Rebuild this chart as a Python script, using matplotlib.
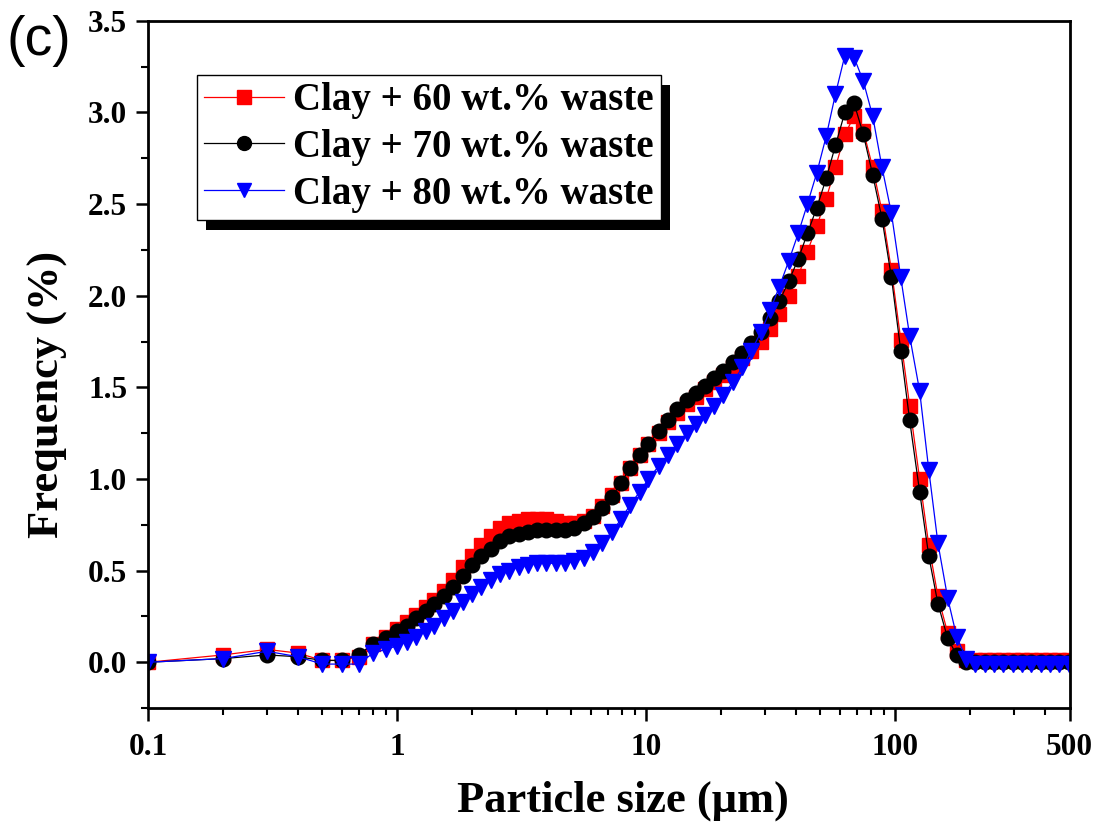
import numpy as np
import matplotlib
matplotlib.use('Agg')
import matplotlib.pyplot as plt
from matplotlib.patches import Rectangle
from matplotlib.ticker import FixedLocator, NullFormatter, MultipleLocator

plt.rcParams['font.family'] = ['Liberation Serif', 'DejaVu Serif']
plt.rcParams['font.weight'] = 'bold'

# particle size classes (um)
size = [0.1, 0.2, 0.3, 0.4, 0.5, 0.6, 0.7, 0.8, 0.9, 1.0,
        1.09, 1.19, 1.30, 1.41, 1.54, 1.68, 1.83, 1.99, 2.17, 2.37,
        2.58, 2.81, 3.07, 3.34, 3.64, 3.97, 4.33, 4.72, 5.14, 5.60,
        6.11, 6.66, 7.26, 7.91, 8.62, 9.40, 10.2, 11.2, 12.2, 13.3,
        14.5, 15.8, 17.2, 18.7, 20.4, 22.3, 24.3, 26.4, 28.8, 31.4,
        34.2, 37.3, 40.7, 44.3, 48.3, 52.7, 57.4, 62.6, 68.2, 74.3,
        81.0, 88.3, 96.3, 105, 114, 125, 136, 148, 162, 176,
        192, 209, 228, 249, 271, 295, 322, 351, 383, 417,
        455, 496]

waste60 = [0.00, 0.04, 0.07, 0.05, 0.01, 0.01, 0.03, 0.10, 0.14, 0.18,
           0.22, 0.26, 0.30, 0.34, 0.39, 0.45, 0.52, 0.58, 0.64, 0.69,
           0.73, 0.76, 0.77, 0.78, 0.78, 0.78, 0.77, 0.76, 0.76, 0.77,
           0.80, 0.85, 0.91, 0.98, 1.06, 1.13, 1.19, 1.25, 1.31, 1.36,
           1.41, 1.45, 1.49, 1.53, 1.57, 1.61, 1.66, 1.70, 1.75, 1.82,
           1.90, 2.00, 2.11, 2.24, 2.38, 2.53, 2.70, 2.88, 2.98, 2.90,
           2.70, 2.46, 2.14, 1.76, 1.40, 1.00, 0.64, 0.36, 0.16, 0.06,
           0.01, 0.01, 0.01, 0.01, 0.01, 0.01, 0.01, 0.01, 0.01, 0.01,
           0.01, 0.01]

waste70 = [0.00, 0.02, 0.04, 0.03, 0.01, 0.01, 0.04, 0.10, 0.13, 0.17,
           0.20, 0.24, 0.28, 0.32, 0.36, 0.41, 0.47, 0.53, 0.58, 0.62,
           0.66, 0.69, 0.70, 0.71, 0.72, 0.72, 0.72, 0.72, 0.73, 0.76,
           0.79, 0.84, 0.90, 0.98, 1.06, 1.13, 1.19, 1.26, 1.32, 1.38,
           1.43, 1.47, 1.51, 1.55, 1.59, 1.64, 1.69, 1.74, 1.80, 1.88,
           1.97, 2.08, 2.20, 2.34, 2.48, 2.64, 2.82, 3.00, 3.05, 2.88,
           2.66, 2.42, 2.10, 1.70, 1.32, 0.93, 0.58, 0.32, 0.13, 0.04,
           0.00, 0.00, 0.00, 0.00, 0.00, 0.00, 0.00, 0.00, 0.00, 0.00,
           0.00, 0.00]

waste80 = [0.00, 0.02, 0.06, 0.03, -0.01, -0.01, -0.01, 0.05, 0.07, 0.09,
           0.11, 0.14, 0.17, 0.20, 0.24, 0.28, 0.33, 0.37, 0.41, 0.45,
           0.48, 0.50, 0.52, 0.53, 0.54, 0.54, 0.54, 0.54, 0.55, 0.57,
           0.60, 0.65, 0.71, 0.78, 0.86, 0.93, 1.00, 1.07, 1.13, 1.19,
           1.25, 1.30, 1.35, 1.40, 1.46, 1.53, 1.61, 1.70, 1.80, 1.92,
           2.05, 2.19, 2.34, 2.50, 2.67, 2.87, 3.10, 3.31, 3.30, 3.17,
           2.98, 2.70, 2.45, 2.10, 1.78, 1.48, 1.05, 0.65, 0.35, 0.14,
           0.02, -0.01, -0.01, -0.01, -0.01, -0.01, -0.01, -0.01, -0.01, -0.01,
           -0.01, -0.01]

labels = ['Clay + 60 wt.% waste', 'Clay + 70 wt.% waste', 'Clay + 80 wt.% waste']
xticks = [0.1, 1, 10, 100, 500]
xticklabels = ['0.1', '1', '10', '100', '500']
yticks = [0.0, 0.5, 1.0, 1.5, 2.0, 2.5, 3.0, 3.5]

fig = plt.figure(figsize=(11.05, 8.34), dpi=100)
ax = fig.add_axes([0.134, 0.151, 0.834, 0.824])

ax.plot(size, waste60, color='#FF0000', lw=0.9, marker='s', ms=9.5,
        mec='#FF0000', mfc='#FF0000', label=labels[0])
ax.plot(size, waste70, color='black', lw=0.9, marker='o', ms=10.5,
        mec='black', mfc='black', label=labels[1])
ax.plot(size, waste80, color='#0000FF', lw=0.9, marker='v', ms=11.5,
        mec='#0000FF', mfc='#0000FF', label=labels[2])

ax.set_xscale('log')
ax.set_xlim(0.1, 500)
ax.set_ylim(-0.25, 3.5)

ax.xaxis.set_major_locator(FixedLocator(xticks))
ax.set_xticklabels(xticklabels)
minors = [m * 10.0 ** e for e in range(-1, 3) for m in range(2, 10)]
minors = [v for v in minors if v < 500]
ax.xaxis.set_minor_locator(FixedLocator(minors))
ax.xaxis.set_minor_formatter(NullFormatter())

ax.yaxis.set_minor_locator(MultipleLocator(0.25))
ax.set_yticks(yticks)
ax.set_yticklabels(['%.1f' % v for v in yticks])

for s in ax.spines.values():
    s.set_linewidth(2)

ax.tick_params(axis='both', which='major', direction='out', length=9, width=1.8,
               labelsize=22.5, pad=6)
ax.tick_params(axis='x', which='major', pad=9)
ax.tick_params(axis='both', which='minor', direction='out', length=5, width=1.5)
ax.tick_params(top=False, right=False)

ax.set_xlabel('Particle size (μm)', fontsize=32, fontweight='bold')
ax.set_ylabel('Frequency (%)', fontsize=32, fontweight='bold')
ax.xaxis.set_label_coords(0.515, -0.105)
ax.yaxis.set_label_coords(-0.087, 0.456)

leg = ax.legend(loc='upper left', bbox_to_anchor=(0.053, 0.921), borderaxespad=0,
                frameon=True, fancybox=False, framealpha=1,
                edgecolor='black', handlelength=2.05, handletextpad=0.25,
                labelspacing=0.25, borderpad=0.18,
                prop={'family': 'Liberation Serif', 'weight': 'bold', 'size': 28})
leg.get_frame().set_linewidth(1.0)
leg.set_zorder(6)
for h in leg.legend_handles:
    h.set_markersize(10)

fig.canvas.draw()
bb = leg.get_window_extent()
shadow = Rectangle((bb.x0 + 9, bb.y0 - 10), bb.width, bb.height, transform=None,
                   facecolor='black', edgecolor='none', zorder=5.5, clip_on=False)
ax.add_patch(shadow)

fig.text(0.006, 0.934, '(c)', fontsize=40, fontweight='normal',
         family=['Liberation Sans', 'DejaVu Sans'])

fig.savefig('out.png', dpi=100)
